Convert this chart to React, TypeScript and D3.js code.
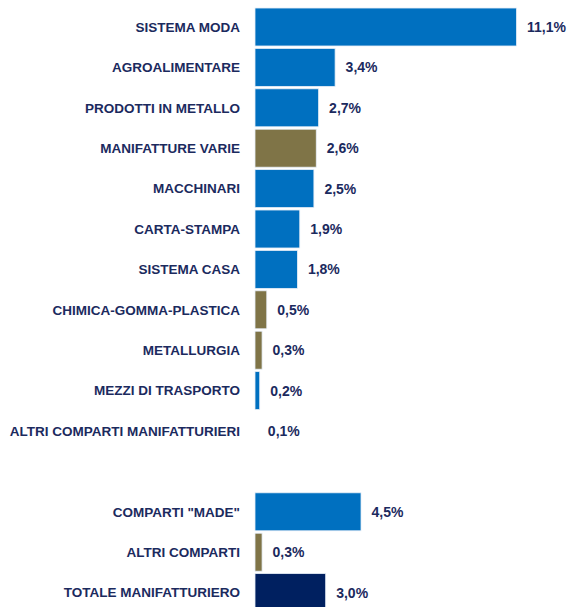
import React, { useRef, useEffect } from "react";
import * as d3 from "d3";

const categories = [
  "SISTEMA MODA",
  "AGROALIMENTARE",
  "PRODOTTI IN METALLO",
  "MANIFATTURE VARIE",
  "MACCHINARI",
  "CARTA-STAMPA",
  "SISTEMA CASA",
  "CHIMICA-GOMMA-PLASTICA",
  "METALLURGIA",
  "MEZZI DI TRASPORTO",
  "ALTRI COMPARTI MANIFATTURIERI",
  "",
  'COMPARTI "MADE"',
  "ALTRI COMPARTI",
  "TOTALE MANIFATTURIERO",
];
const values = [11.1, 3.4, 2.7, 2.6, 2.5, 1.9, 1.8, 0.5, 0.3, 0.2, 0.1, null, 4.5, 0.3, 3.0];
const groups = [
  "made", "made", "made", "altri", "made", "made", "made",
  "altri", "altri", "made", "altri", "", "made", "altri", "totale",
];

const colors: Record<string, string> = {
  made: "#0070C0",
  altri: "#7F7447",
  totale: "#002060",
};

function App() {
  const ref = useRef<HTMLDivElement>(null);

  useEffect(() => {
    d3.select(ref.current).select("svg").remove();

    const width = 571,
      height = 607;

    const svg = d3
      .select(ref.current)
      .append("svg")
      .attr("width", width)
      .attr("height", height)
      .style("display", "block");

    const x = d3.scaleLinear().domain([0, 11.1]).range([255, 516.5]);
    const y = d3
      .scaleBand()
      .domain(categories.map((c, i) => String(i)))
      .range([6.8, 6.8 + 15 * 40.4])
      .paddingInner(0.06)
      .paddingOuter(0.03);

    const rows = categories.map((c, i) => ({ name: c, value: values[i], group: groups[i], key: String(i) }));
    const data = rows.filter(d => d.value !== null);

    const font = "'Liberation Sans', Arial, sans-serif";
    const textColor = "#1B2A5E";

    // the tiniest bar is not visible in the original
    svg
      .selectAll(".bar")
      .data(data.filter(d => x(d.value as number) - x(0) >= 3))
      .enter()
      .append("rect")
      .attr("class", "bar")
      .attr("x", x(0))
      .attr("y", d => y(d.key)!)
      .attr("width", d => x(d.value as number) - x(0))
      .attr("height", y.bandwidth())
      .attr("fill", d => colors[d.group])
      .attr("stroke", "#e6eef7")
      .attr("stroke-width", 0.8);

    svg
      .selectAll(".cat")
      .data(data)
      .enter()
      .append("text")
      .attr("class", "cat")
      .attr("x", 240)
      .attr("y", d => y(d.key)! + y.bandwidth() / 2)
      .attr("dy", "0.35em")
      .attr("text-anchor", "end")
      .attr("font-family", font)
      .attr("font-weight", "bold")
      .attr("font-size", "13.5px")
      .attr("fill", textColor)
      .text(d => d.name);

    svg
      .selectAll(".val")
      .data(data)
      .enter()
      .append("text")
      .attr("class", "val")
      .attr("x", d => x(d.value as number) + 10.5)
      .attr("y", d => y(d.key)! + y.bandwidth() / 2)
      .attr("dy", "0.35em")
      .attr("font-family", font)
      .attr("font-weight", "bold")
      .attr("font-size", "14px")
      .attr("fill", textColor)
      .text(d => d3.format(".1f")(d.value as number).replace(".", ",") + "%");
  }, []);

  return <div ref={ref} style={{ position: "absolute", left: 0, top: 0 }}></div>;
}

export default App;
